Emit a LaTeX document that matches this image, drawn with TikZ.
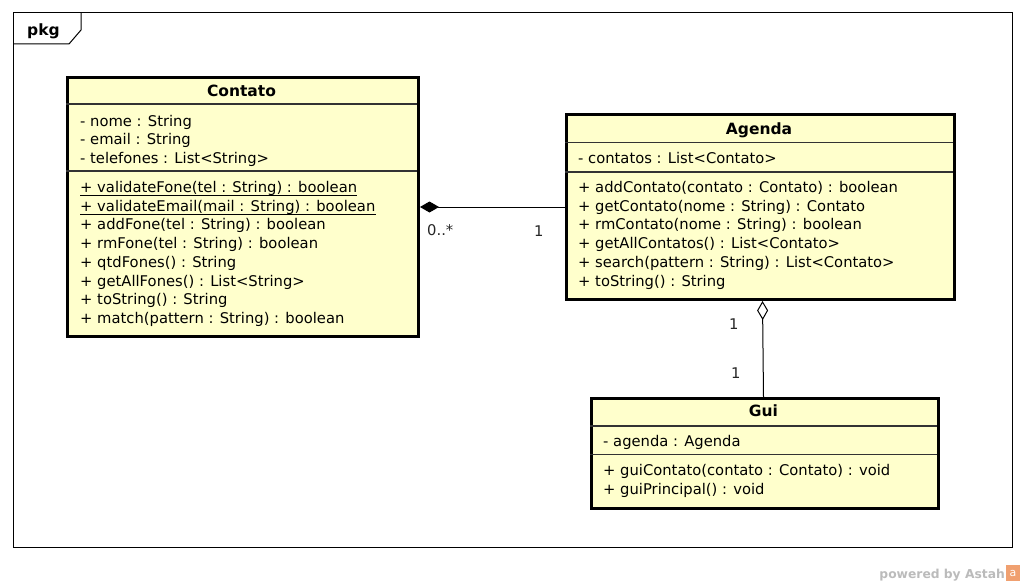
\documentclass[tikz,border=0pt]{standalone}
\usepackage{fontspec}
\setmainfont{DejaVu Sans}
\usetikzlibrary{arrows.meta,calc}
\definecolor{classfill}{HTML}{FFFFCC}
\definecolor{sepline}{HTML}{333333}
\definecolor{astahgray}{HTML}{BBBBBB}
\definecolor{astahorange}{HTML}{F0A070}
\tikzset{
  classbox/.style={draw=black, line width=3pt, fill=classfill, anchor=north west, inner sep=0pt},
  sepln/.style={draw=sepline, line width=1.2pt},
  member/.style={anchor=base west, inner sep=0pt, font=\fontsize{14.75}{17}\selectfont},
  title/.style={anchor=base, inner sep=0pt, font=\fontsize{15.5}{17}\selectfont\bfseries},
  mult/.style={anchor=base west, inner sep=0pt, text=black!85, font=\fontsize{14.75}{17}\selectfont},
  conn/.style={draw=black, line width=1pt},
  staticul/.style={draw=black, line width=0.9pt},
}
\begin{document}
\begin{tikzpicture}[x=1pt,y=-1pt]
\useasboundingbox (0,0) rectangle (1025,586);
\fill[white] (0,0) rectangle (1025,586);

% package frame with name tab
\draw[line width=1pt] (13,13) rectangle (1012,547);
\draw[line width=1pt] (81,13) -- (81,30) -- (69,44) -- (13,44);
\node[anchor=base west, inner sep=0pt, font=\fontsize{15.5}{17}\selectfont\bfseries] (pkg) at (27,36) {pkg};

% class Contato
\node[classbox, minimum width=351pt, minimum height=259pt] (contato) at (66,76) {};
\draw[sepln] (66,104) -- (417,104);
\draw[sepln] (66,171) -- (417,171);
\node[title] (contatoT) at (241.5,96.5) {Contato};
\foreach \t [count=\i] in {- nome : String, - email : String, - telefones : List<String>}
  \node[member] (contatoA\i) at (80,{126+(\i-1)*18.7}) {\t};
\foreach \t [count=\i] in {+ validateFone(tel : String) : boolean,
    + validateEmail(mail : String) : boolean,
    + addFone(tel : String) : boolean,
    + rmFone(tel : String) : boolean,
    + qtdFones() : String,
    + getAllFones() : List<String>,
    + toString() : String,
    + match(pattern : String) : boolean}
  \node[member] (contatoM\i) at (80,{192.5+(\i-1)*18.7}) {\t};
% static operations are underlined
\foreach \i in {1,2}
  \draw[staticul] ($(contatoM\i.base west)+(0,3)$) -- ($(contatoM\i.base east)+(0,3)$);

% class Agenda
\node[classbox, minimum width=388pt, minimum height=185pt] (agenda) at (565,113) {};
\draw[sepln] (565,142.5) -- (953,142.5);
\draw[sepln] (565,172) -- (953,172);
\node[title] (agendaT) at (759,134.5) {Agenda};
\node[member] (agendaA1) at (578,163.5) {- contatos : List<Contato>};
\foreach \t [count=\i] in {+ addContato(contato : Contato) : boolean,
    + getContato(nome : String) : Contato,
    + rmContato(nome : String) : boolean,
    + getAllContatos() : List<Contato>,
    + search(pattern : String) : List<Contato>,
    + toString() : String}
  \node[member] (agendaM\i) at (578,{192.5+(\i-1)*18.7}) {\t};

% class Gui
\node[classbox, minimum width=347pt, minimum height=110pt] (gui) at (590,397) {};
\draw[sepln] (590,426) -- (937,426);
\draw[sepln] (590,454.5) -- (937,454.5);
\node[title] (guiT) at (763.5,416.5) {Gui};
\node[member] (guiA1) at (603,446.5) {- agenda : Agenda};
\node[member] (guiM1) at (603,475.5) {+ guiContato(contato : Contato) : void};
\node[member] (guiM2) at (603,494.2) {+ guiPrincipal() : void};

% composition Agenda <>-- Contato
\draw[conn, {Diamond[length=19pt,width=11pt,fill=black]}-] (contato.east) -- (agenda.west);
\node[mult] (m1) at (427,235.5) {0..*};
\node[mult] (m2) at (534,236.5) {1};

% aggregation Agenda <>-- Gui
\draw[conn, {Diamond[length=19pt,width=11pt,open,fill=white]}-] ($(agenda.south)+(2,0)$) -- ($(gui.north)+(-1.5,0)$);
\node[mult] (m3) at (729,329.5) {1};
\node[mult] (m4) at (731,378.5) {1};

% tool credit
\node[anchor=base east, inner sep=0pt, text=astahgray, font=\fontsize{12.3}{15}\selectfont\bfseries] (credit) at (1005,578) {powered by Astah};
\fill[astahorange] (1006,565) rectangle (1020,581);
\node[inner sep=0pt, text=white, font=\fontsize{11}{12}\selectfont] (credicon) at (1013,573.5) {a};
\end{tikzpicture}
\end{document}
